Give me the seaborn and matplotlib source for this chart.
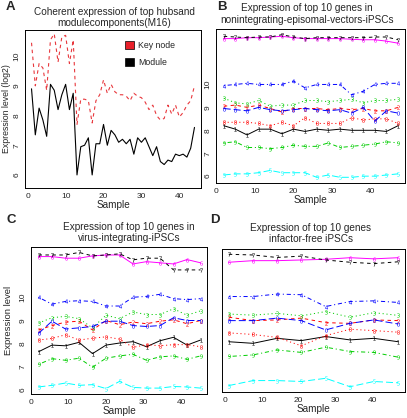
import numpy as np
import pandas as pd
import matplotlib
matplotlib.use("Agg")
import matplotlib.pyplot as plt
from matplotlib.patches import Patch
import seaborn as sns

# ---- panel A: hub gene vs module eigengene (44 samples) ----
a_samples = list(range(1, 45))
a_module = [8.9, 7.35, 8.25, 7.85, 7.3, 9.05, 8.85, 8.2, 8.7, 9.05, 8.2, 8.75,
            6.0, 6.95, 7.0, 7.25, 6.0, 7.05, 7.05, 7.7, 7.0, 7.5, 7.35, 7.1,
            7.2, 7.05, 7.2, 6.7, 7.25, 7.1, 7.25, 6.95, 6.65, 6.95, 6.45, 6.35,
            6.5, 6.45, 6.7, 6.65, 6.7, 6.6, 6.9, 7.6]
a_keynode = [10.45, 9.0, 9.75, 9.6, 8.85, 10.55, 10.75, 9.8, 10.65, 10.7, 9.75, 10.55,
             7.7, 8.55, 8.55, 8.5, 7.75, 8.5, 8.7, 9.2, 8.75, 9.05, 8.8, 8.7,
             8.7, 8.65, 8.5, 8.75, 8.65, 8.6, 8.45, 8.2, 8.35, 8.0, 7.85, 7.9,
             8.35, 8.05, 8.35, 7.95, 8.1, 8.35, 8.5, 9.0]

# gene labels as R matplot draws them (columns 1..9, 0)
gene_labels = ["1", "2", "3", "4", "5", "6", "7", "8", "9", "0"]

# ---- panel B: nonintegrating episomal vectors ----
b_samples = [2, 5, 8, 11, 14, 17, 20, 23, 26, 29, 32, 35, 38, 41, 44, 47]
b_genes = [
    [8.2, 8.05, 7.8, 8.05, 8.05, 7.85, 8.05, 7.95, 8.05, 8.0, 8.05, 8.0, 8.0, 8.0, 7.95, 8.2],
    [9.05, 9.1, 9.0, 9.1, 8.95, 8.8, 8.95, 8.95, 8.95, 8.9, 8.95, 8.9, 8.95, 8.85, 8.85, 9.0],
    [9.4, 9.2, 9.15, 9.3, 9.05, 9.1, 9.1, 9.3, 9.3, 9.25, 9.3, 9.35, 9.2, 9.3, 9.3, 9.35],
    [9.95, 10.0, 10.05, 10.0, 10.0, 10.0, 10.15, 9.85, 10.0, 10.0, 10.0, 9.55, 9.7, 10.0, 10.05, 10.05],
    [6.05, 6.1, 6.1, 6.15, 6.25, 6.15, 6.15, 6.15, 5.95, 6.05, 5.95, 5.95, 6.0, 6.0, 6.05, 6.1],
    [12.0, 12.0, 12.04, 12.04, 12.07, 12.1, 12.04, 12.0, 12.0, 12.0, 12.0, 11.97, 11.95, 11.95, 11.89, 11.8],
    [12.1, 12.07, 12.04, 12.07, 12.07, 12.17, 12.07, 12.0, 12.04, 12.04, 12.04, 12.04, 12.04, 12.07, 12.07, 11.95],
    [8.35, 8.35, 8.35, 8.3, 8.2, 8.35, 8.2, 8.55, 8.3, 8.3, 8.3, 8.55, 8.45, 8.5, 8.5, 8.3],
    [7.45, 7.5, 7.25, 7.25, 7.2, 7.25, 7.35, 7.3, 7.3, 7.45, 7.25, 7.3, 7.35, 7.4, 7.5, 7.45],
    [8.95, 8.9, 8.85, 9.0, 8.9, 8.85, 8.9, 8.95, 8.9, 8.85, 8.9, 8.75, 9.0, 8.4, 8.85, 8.75],
]

# ---- panel C: virus integrating ----
c_samples = [2, 5.6, 9.2, 12.8, 16.4, 20, 23.6, 27.2, 30.8, 34.4, 38, 41.6, 45.2]
c_genes = [
    [7.63, 7.92, 7.89, 8.04, 7.55, 7.92, 8.01, 8.07, 7.85, 8.11, 8.26, 7.92, 8.14],
    [8.58, 8.77, 8.92, 8.96, 8.58, 8.99, 8.81, 8.92, 8.85, 8.96, 9.02, 8.85, 8.99],
    [8.88, 9.11, 9.17, 9.07, 8.67, 9.22, 9.07, 9.36, 9.25, 9.25, 9.5, 9.22, 9.41],
    [10.0, 9.7, 9.82, 9.85, 9.82, 9.62, 9.62, 10.0, 10.04, 10.13, 9.94, 9.9, 9.94],
    [6.1, 6.17, 6.27, 6.17, 6.2, 6.03, 6.34, 6.08, 6.05, 6.05, 6.12, 6.1, 6.05],
    [11.77, 11.77, 11.7, 11.7, 11.8, 11.84, 11.84, 11.45, 11.55, 11.5, 11.45, 11.64, 11.5],
    [11.84, 11.84, 11.84, 11.95, 11.8, 11.84, 11.89, 11.63, 11.7, 11.7, 11.19, 11.19, 11.19],
    [8.14, 8.21, 8.37, 8.14, 8.22, 8.28, 8.18, 7.82, 7.94, 7.89, 7.94, 7.94, 7.85],
    [7.08, 7.33, 7.26, 7.35, 6.96, 7.35, 7.45, 7.52, 7.26, 7.41, 7.45, 7.3, 7.45],
    [8.43, 8.96, 8.62, 8.67, 8.73, 8.96, 8.96, 8.77, 8.73, 8.77, 9.11, 8.99, 8.99],
]

# ---- panel D: factor free ----
d_samples = [1, 7.6, 14.1, 20.7, 27.3, 33.9, 40.4, 47]
d_genes = [
    [8.03, 7.96, 8.18, 8.08, 8.26, 8.11, 8.18, 8.03],
    [9.11, 8.96, 8.99, 9.07, 8.87, 8.84, 8.99, 8.96],
    [9.25, 9.2, 9.28, 9.17, 9.36, 9.11, 9.31, 9.19],
    [10.02, 10.02, 10.13, 10.1, 9.58, 9.8, 9.83, 9.76],
    [6.1, 6.32, 6.32, 6.28, 6.42, 6.05, 6.28, 6.22],
    [11.53, 11.6, 11.6, 11.63, 11.66, 11.73, 11.68, 11.73],
    [11.88, 11.85, 11.74, 11.8, 11.63, 11.53, 11.47, 11.55],
    [8.42, 8.35, 8.22, 7.85, 8.3, 8.58, 8.52, 8.45],
    [7.38, 7.45, 7.67, 7.56, 7.79, 7.6, 7.56, 7.35],
    [8.96, 8.96, 9.07, 8.96, 8.55, 8.84, 8.99, 8.81],
]

# R matplot defaults: col = 1:6, lty = 1:5 recycled
R_COLS = ["#000000", "#FF0000", "#00CD00", "#0000FF", "#00FFFF", "#FF00FF"]
R_LTY = ["-", (0, (2.5, 2.5)), (0, (0.8, 2.0)), (0, (0.8, 2.0, 3.0, 2.0)), (0, (5.0, 2.2))]

W, H = 407, 418


def px_axes(fig, l, r, t, b):
    return fig.add_axes([l / W, 1 - b / H, (r - l) / W, (b - t) / H])


def style_axes(ax, yticks=True):
    for s in ax.spines.values():
        s.set_linewidth(0.7)
        s.set_color("black")
    ax.set_xticks([0, 10, 20, 30, 40])
    ax.tick_params(axis="both", length=2.5, width=0.6, labelsize=6.0, pad=0.8)
    if yticks:
        ax.set_yticks([6, 7, 8, 9, 10])
        for lab in ax.get_yticklabels():
            lab.set_rotation(90)
            lab.set_va("center")
    else:
        ax.set_yticks([])
    ax.set_xlabel("Sample", fontsize=7.2, labelpad=0.5)
    ax.set_ylabel("")


def plot_genes(ax, xs, genes):
    rows = []
    for lab, vals in zip(gene_labels, genes):
        for x, v in zip(xs, vals):
            rows.append({"sample": x, "expr": v, "gene": lab})
    df = pd.DataFrame(rows)
    for i, lab in enumerate(gene_labels):
        sub = df[df["gene"] == lab]
        sns.lineplot(data=sub, x="sample", y="expr", ax=ax, color=R_COLS[i % 6],
                     linestyle=R_LTY[i % 5], linewidth=0.7,
                     marker=f"${lab}$", markersize=3.0, markeredgewidth=0,
                     markerfacecolor=R_COLS[i % 6], legend=False)
    lo = df["expr"].min()
    hi = df["expr"].max()
    pad = (hi - lo) * 0.04
    ax.set_ylim(lo - pad, hi + pad)
    xpad = (max(xs) - min(xs)) * 0.04
    ax.set_xlim(min(xs) - xpad, max(xs) + xpad)


sns.set_style("white")
plt.rcParams["font.family"] = ["Liberation Sans", "DejaVu Sans"]
plt.rcParams["lines.scale_dashes"] = False

fig = plt.figure(figsize=(W / 100, H / 100), dpi=100)

# ---- A ----
ax_a = px_axes(fig, 25, 201, 30, 188)
dfa = pd.DataFrame({"sample": a_samples, "Module": a_module, "Key node": a_keynode})
sns.lineplot(data=dfa, x="sample", y="Key node", ax=ax_a, color="#E8383D",
             linestyle=(0, (2.5, 2.5)), linewidth=0.8)
sns.lineplot(data=dfa, x="sample", y="Module", ax=ax_a, color="black", linewidth=0.8)
ax_a.set_xlim(-0.72, 45.72)
ax_a.set_ylim(5.56, 10.88)
style_axes(ax_a)
ax_a.set_ylabel("Expression level (log2)", fontsize=6.3)
ax_a.yaxis.set_label_coords(-0.077, 0.5)
handles = [Patch(facecolor="#E8202A", edgecolor="black", linewidth=0.5),
           Patch(facecolor="black", edgecolor="black", linewidth=0.5)]
ax_a.legend(handles, ["Key node", "Module"], loc="upper left", bbox_to_anchor=(0.55, 0.95),
            frameon=False, fontsize=6.3, handlelength=1.0, handleheight=1.0,
            handletextpad=0.5, labelspacing=0.9, borderaxespad=0)

# ---- B ----
ax_b = px_axes(fig, 216, 405, 29, 183)
plot_genes(ax_b, b_samples, b_genes)
style_axes(ax_b)

# ---- C ----
ax_c = px_axes(fig, 31, 207, 247, 394)
plot_genes(ax_c, c_samples, c_genes)
style_axes(ax_c)
ax_c.set_ylabel("Expression level", fontsize=6.8)
ax_c.yaxis.set_label_coords(-0.1, 0.5)

# ---- D ----
ax_d = px_axes(fig, 222, 405, 249, 392)
plot_genes(ax_d, d_samples, d_genes)
style_axes(ax_d, yticks=False)

# titles and panel letters
title_kw = dict(ha="center", va="center", fontsize=7.2)
fig.text(114 / W, 1 - 12 / H, "Coherent expression of top hubsand", **title_kw)
fig.text(114 / W, 1 - 23 / H, "modulecomponents(M16)", **title_kw)
fig.text(307 / W, 1 - 8 / H, "Expression of top 10 genes in", **title_kw)
fig.text(307 / W, 1 - 20 / H, "nonintegrating-episomal-vectors-iPSCs", **title_kw)
fig.text(129 / W, 1 - 227 / H, "Expression of top 10 genes in", **title_kw)
fig.text(129 / W, 1 - 238 / H, "virus-integrating-iPSCs", **title_kw)
fig.text(311 / W, 1 - 228 / H, "Expression of top 10 genes", **title_kw)
fig.text(311 / W, 1 - 239 / H, "infactor-free iPSCs", **title_kw)

letter_kw = dict(ha="center", va="center", fontsize=9.5, fontweight="bold")
fig.text(10 / W, 1 - 7 / H, "A", **letter_kw)
fig.text(222 / W, 1 - 7 / H, "B", **letter_kw)
fig.text(11 / W, 1 - 220 / H, "C", **letter_kw)
fig.text(215 / W, 1 - 220 / H, "D", **letter_kw)

fig.savefig("out.png", dpi=100)
